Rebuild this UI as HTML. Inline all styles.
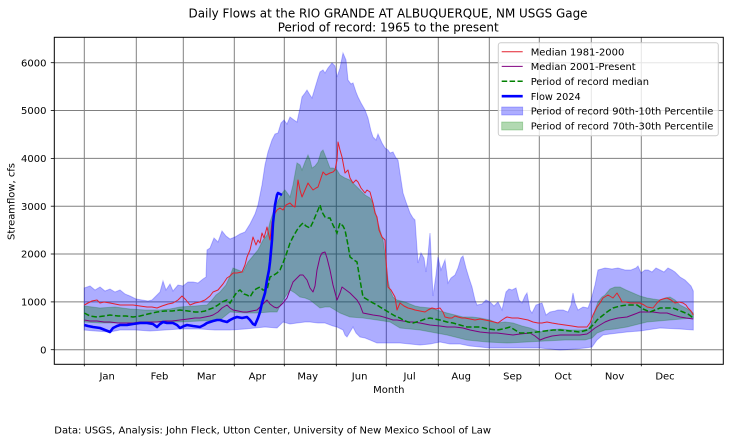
<!DOCTYPE html>
<html><head><meta charset="utf-8"><style>
html,body{margin:0;padding:0;background:#fff;}
svg{display:block;}
text{font-family:"DejaVu Sans","Liberation Sans",sans-serif;fill:#000;}
</style></head><body>
<svg width="730" height="441" viewBox="0 0 730 441" xmlns="http://www.w3.org/2000/svg">
<rect x="0" y="0" width="730" height="441" fill="#fff"/>
<defs><clipPath id="ax"><rect x="54.3" y="37.3" width="669" height="327"/></clipPath></defs>

<!-- grid -->
<g stroke="#808080" stroke-width="1">
<line x1="54.3" x2="723.3" y1="349.7" y2="349.7"/>
<line x1="54.3" x2="723.3" y1="301.9" y2="301.9"/>
<line x1="54.3" x2="723.3" y1="254.0" y2="254.0"/>
<line x1="54.3" x2="723.3" y1="206.2" y2="206.2"/>
<line x1="54.3" x2="723.3" y1="158.4" y2="158.4"/>
<line x1="54.3" x2="723.3" y1="110.5" y2="110.5"/>
<line x1="54.3" x2="723.3" y1="62.7" y2="62.7"/>
<line x1="84.3" x2="84.3" y1="37.3" y2="364.3"/>
<line x1="136.3" x2="136.3" y1="37.3" y2="364.3"/>
<line x1="183.3" x2="183.3" y1="37.3" y2="364.3"/>
<line x1="234.3" x2="234.3" y1="37.3" y2="364.3"/>
<line x1="284.3" x2="284.3" y1="37.3" y2="364.3"/>
<line x1="336.3" x2="336.3" y1="37.3" y2="364.3"/>
<line x1="386.3" x2="386.3" y1="37.3" y2="364.3"/>
<line x1="438.3" x2="438.3" y1="37.3" y2="364.3"/>
<line x1="489.3" x2="489.3" y1="37.3" y2="364.3"/>
<line x1="539.3" x2="539.3" y1="37.3" y2="364.3"/>
<line x1="591.3" x2="591.3" y1="37.3" y2="364.3"/>
<line x1="641.3" x2="641.3" y1="37.3" y2="364.3"/>
</g>

<g clip-path="url(#ax)">
<!-- 90-10 band -->
<polygon fill="rgba(0,0,255,0.32)" stroke="rgba(0,0,255,0.25)" stroke-width="1" points="84.3,288 90,286 95,290 100,287 105,291 110,289 115,292 120,290 125,294 130,296 136,299 142,300 148,301 152,300 156,296 160,292 163,281 166,290 170,284 173,291 178,285 183,286 188,282 193,282 198,283 203,279 206,277 207,250 210,248 214,238 218,242 222,231 226,236 230,239 235,237 240,234 245,232 250,224 255,214 258,205 262,185 265,165 268,152 272,140 275,134 278,133 281,123 284,120 287,124 290,117 294,120 297,122 300,108 302,97 305,93 307,90 310,95 312,98 315,88 318,78 320,72 323,70 325,73 328,68 332,63 335,66 337,77 340,68 343,53 346,60 348,80 351,84 353,83 356,92 358,97 361,103 365,110 368,118 371,131 373,137 376,140 378,134 382,143 385,148 388,150 390,153 393,152 396,158 398,160 401,180 403,193 406,202 410,213 413,218 415,220 418,263 421,253 424,258 426,272 428,255 430,233 433,296 436,275 438,257 441,270 445,260 448,283 451,278 455,275 458,268 461,258 463,256 466,268 469,278 472,287 475,300 477,305 482,304 486,300 490,302 494,306 498,302 502,310 506,292 509,289 512,290 516,288 519,300 522,303 525,296 527,293 530,310 532,313 536,305 542,303 546,315 550,312 555,311 558,310 563,310 568,312 571,305 573,293 575,303 578,310 583,307 588,308 591,300 595,285 598,270 605,268 612,269 618,268 625,270 631,270 636,268 638,266 641,273 645,270 648,270 652,272 656,268 660,270 664,272 668,268 672,270 675,272 680,277 685,280 688,283 691,286 693.3,291 693.3,330 680,329 660,328 640,331 627,332 610,334 603,335 597,340 592,347 585,348 575,349 560,350 540,348 520,348 500,348 490,348 480,347 470,346 460,344 450,344 440,342 430,344 420,345 410,344 400,343 390,343 377,343 370,340 365,338 360,337 356,333 353,327 350,332 347,337 345,335 343,330 341,329 337,327 333,326 325,323 318,323 310,322 305,322 297,323 290,324 283,322 277,328 265,327 255,328 245,329 230,330 215,330 200,329 180,329 165,330 150,331 136,330 120,330 110,332 95,331 84.3,330"/>
<!-- 70-30 band -->
<polygon fill="rgba(0,115,10,0.33)" stroke="rgba(0,115,10,0.25)" stroke-width="1" points="84.3,306 100,308 115,307 130,309 145,310 160,310 170,309 180,307 195,306 207,305 212,300 216,295 220,292 226,285 230,276 233,268 238,270 243,272 248,262 253,256 258,250 263,240 267,235 270,222 273,213 277,203 280,197 283,192 285,190 288,194 290,197 293,185 297,163 300,165 302,170 305,162 308,155 310,160 312,168 315,166 318,162 321,152 323,150 325,155 327,160 330,168 333,168 337,170 340,175 345,178 350,180 355,185 360,190 365,195 370,198 373,203 376,215 380,230 383,240 386,262 388,280 390,290 393,297 397,300 405,302 410,304 415,306 420,307 430,308 440,311 447,313 455,315 463,317 472,317 480,318 490,320 497,323 505,322 513,323 522,326 530,328 540,332 548,330 560,329 570,330 582,330 588,329 592,323 595,310 598,302 602,297 605,295 610,289 615,287 620,287 626,290 633,293 640,296 647,298 653,299 660,300 665,298 670,297 675,300 680,305 686,308 693.3,313 693.3,318 670,320 647,322 627,327 615,329 605,330 597,333 592,338 585,340 565,340 545,341 527,342 507,343 487,342 467,340 447,335 420,330 400,328 390,322 377,320 363,318 350,317 340,313 335,310 330,307 325,307 320,308 315,304 310,300 305,298 300,297 295,293 290,290 283,300 277,312 270,312 257,313 245,313 230,312 220,320 200,321 180,322 160,322 140,323 120,323 100,323 84.3,322"/>

<!-- red median 1981-2000 -->
<polyline fill="none" stroke="#e3202e" stroke-width="1" stroke-linejoin="round" points="84.3,305 88,303 92,301 97,300 100,303 104,302 110,303 115,304 120,305 126,305 133,305 140,306 147,307 152,307 157,308 162,306 168,304 173,303 178,300 182,296 186,300 190,305 195,303 200,302 205,300 210,296 213,292 218,290 223,284 227,278 230,276 233,273 237,273 242,272 245,265 247,257 250,250 253,237 256,245 258,240 260,243 262,233 264,238 267,227 270,240 272,222 274,215 277,210 280,208 283,210 286,205 290,203 293,206 295,207 298,180 300,190 302,197 305,190 308,183 310,186 313,190 316,188 318,187 321,178 323,172 326,175 330,173 333,172 335,170 337,160 338,142 340,150 342,157 345,173 348,170 350,178 353,183 356,180 358,182 361,188 365,193 367,190 370,192 373,203 375,213 377,217 379,230 382,237 385,240 386,260 388,287 391,290 395,297 397,310 400,303 404,306 408,308 412,309 415,310 420,311 425,312 428,310 432,308 436,309 440,308 443,312 445,317 449,318 452,318 455,316 458,317 462,318 465,318 470,319 475,320 480,319 485,320 490,321 494,322 498,323 502,320 505,318 507,317 512,318 518,318 523,319 528,320 533,322 538,323 542,323 547,322 552,323 558,324 565,325 572,326 578,327 583,327 587,327 590,323 593,315 597,307 600,303 603,298 608,295 613,298 617,293 620,298 622,302 626,302 630,303 635,303 640,303 644,305 647,307 653,308 657,303 660,300 663,299 667,298 671,300 675,303 679,302 683,303 686,305 688,308 691,311 693.3,315"/>
<!-- purple median 2001-present -->
<polyline fill="none" stroke="#800080" stroke-width="1" stroke-linejoin="round" points="84.3,320 90,321 97,321 104,322 110,322 118,323 125,323 133,323 140,322 148,322 157,322 165,321 172,321 180,320 188,319 195,318 200,318 205,317 210,316 213,315 218,312 222,308 227,305 230,308 233,310 238,311 243,312 247,312 252,311 257,310 262,305 267,300 270,304 274,307 277,308 280,306 283,303 287,298 290,290 293,282 297,278 300,275 303,275 307,280 310,288 313,292 315,286 317,270 320,257 322,253 325,252 327,258 330,270 333,285 337,300 340,293 342,287 346,290 350,293 354,297 357,300 360,305 363,313 368,314 373,315 380,316 387,318 393,320 397,320 403,321 410,322 413,322 420,323 430,325 440,326 447,327 455,327 463,328 470,330 480,332 490,333 497,333 505,334 513,335 520,334 530,333 535,336 540,340 545,338 552,336 560,335 570,335 580,335 587,334 590,332 595,328 600,325 605,322 610,320 618,318 627,317 635,314 640,312 646,312 653,312 660,313 667,313 673,315 680,317 686,318 693.3,319"/>
<!-- green dashed period median -->
<polyline fill="none" stroke="#008000" stroke-width="1.5" stroke-dasharray="5.5,2.4" points="84.3,313 90,316 97,317 104,316 110,315 118,316 126,316 133,317 140,316 148,314 157,312 165,311 172,311 180,310 188,311 195,312 200,312 205,311 210,309 213,308 218,305 222,302 227,300 230,303 233,298 237,292 240,290 244,294 247,295 250,297 253,292 256,289 260,287 263,290 267,290 270,277 274,275 277,273 280,270 283,263 286,255 290,243 293,237 297,230 300,226 303,223 306,226 310,228 313,222 315,217 318,210 320,205 322,212 325,217 328,218 330,218 333,225 337,233 340,223 343,226 345,230 348,245 350,257 354,260 357,262 360,280 363,297 368,300 373,303 377,305 380,307 385,310 390,313 395,316 400,318 403,320 408,322 413,323 420,321 425,319 430,318 435,319 440,320 447,322 453,323 460,325 467,327 473,327 480,327 488,329 497,330 503,329 510,327 515,330 520,333 528,333 537,332 545,331 553,330 560,330 570,331 580,332 587,330 590,328 594,324 597,320 602,316 607,312 613,308 620,306 627,305 632,305 637,305 643,309 650,312 655,310 660,308 667,308 673,308 678,310 683,312 688,314 693.3,318"/>
<!-- flow 2024 -->
<polyline fill="none" stroke="#0000ff" stroke-width="2.6" stroke-linejoin="round" stroke-linecap="butt" points="84.3,325 88,326 93,327 100,328 105,330 110,332 113,328 117,326 120,325 127,325 133,324 140,323 147,323 153,324 157,327 160,324 163,322 167,323 173,323 177,325 180,328 184,326 187,325 193,326 200,327 204,325 207,323 210,322 213,321 217,320 220,320 223,321 227,322 230,320 234,318 237,317 242,318 247,317 250,320 253,324 255,325 258,318 260,312 262,303 265,293 267,280 269,270 270,262 272,240 273,223 275,205 277,195 278,193 280,194 282,195"/>
</g>

<!-- axes frame -->
<rect x="54.3" y="37.3" width="669" height="327" fill="none" stroke="#000" stroke-width="1"/>

<!-- ticks -->
<g stroke="#000" stroke-width="0.8">
<line x1="50.8" x2="54.3" y1="349.7" y2="349.7"/>
<line x1="50.8" x2="54.3" y1="301.9" y2="301.9"/>
<line x1="50.8" x2="54.3" y1="254.0" y2="254.0"/>
<line x1="50.8" x2="54.3" y1="206.2" y2="206.2"/>
<line x1="50.8" x2="54.3" y1="158.4" y2="158.4"/>
<line x1="50.8" x2="54.3" y1="110.5" y2="110.5"/>
<line x1="50.8" x2="54.3" y1="62.7" y2="62.7"/>
<line x1="84.3" x2="84.3" y1="364.3" y2="366.3"/>
<line x1="136.3" x2="136.3" y1="364.3" y2="366.3"/>
<line x1="183.3" x2="183.3" y1="364.3" y2="366.3"/>
<line x1="234.3" x2="234.3" y1="364.3" y2="366.3"/>
<line x1="284.3" x2="284.3" y1="364.3" y2="366.3"/>
<line x1="336.3" x2="336.3" y1="364.3" y2="366.3"/>
<line x1="386.3" x2="386.3" y1="364.3" y2="366.3"/>
<line x1="438.3" x2="438.3" y1="364.3" y2="366.3"/>
<line x1="489.3" x2="489.3" y1="364.3" y2="366.3"/>
<line x1="539.3" x2="539.3" y1="364.3" y2="366.3"/>
<line x1="591.3" x2="591.3" y1="364.3" y2="366.3"/>
<line x1="641.3" x2="641.3" y1="364.3" y2="366.3"/>
</g>

<!-- y tick labels -->
<g font-size="10" text-anchor="end">
<text x="46.5" y="353.3">0</text>
<text x="46.5" y="305.5">1000</text>
<text x="46.5" y="257.6">2000</text>
<text x="46.5" y="209.8">3000</text>
<text x="46.5" y="162.0">4000</text>
<text x="46.5" y="114.1">5000</text>
<text x="46.5" y="66.3">6000</text>
</g>
<!-- x tick labels -->
<g font-size="10" text-anchor="middle">
<text x="107.2" y="379.5">Jan</text>
<text x="159.5" y="379.5">Feb</text>
<text x="206.3" y="379.5">Mar</text>
<text x="257.3" y="379.5">Apr</text>
<text x="307.7" y="379.5">May</text>
<text x="359.6" y="379.5">Jun</text>
<text x="409.6" y="379.5">Jul</text>
<text x="461.2" y="379.5">Aug</text>
<text x="512.6" y="379.5">Sep</text>
<text x="563" y="379.5">Oct</text>
<text x="614.6" y="379.5">Nov</text>
<text x="665" y="379.5">Dec</text>
</g>

<text x="388.8" y="393" font-size="10" text-anchor="middle">Month</text>
<text transform="translate(14.5,201.5) rotate(-90)" font-size="10" text-anchor="middle" textLength="77" lengthAdjust="spacingAndGlyphs">Streamflow, cfs</text>

<!-- title -->
<text x="388" y="17.5" font-size="12.3" text-anchor="middle" textLength="399" lengthAdjust="spacingAndGlyphs">Daily Flows at the RIO GRANDE AT ALBUQUERQUE, NM USGS Gage</text>
<text x="388.2" y="31.5" font-size="12.3" text-anchor="middle" textLength="221" lengthAdjust="spacingAndGlyphs">Period of record: 1965 to the present</text>

<!-- footer -->
<text x="54.3" y="433.3" font-size="10" textLength="436.7" lengthAdjust="spacingAndGlyphs">Data: USGS, Analysis: John Fleck, Utton Center, University of New Mexico School of Law</text>

<!-- legend -->
<rect x="498.3" y="42.7" width="220" height="93" rx="2.5" ry="2.5" fill="rgba(255,255,255,0.8)" stroke="#cccccc" stroke-width="1"/>
<line x1="501.7" x2="522.7" y1="51.7" y2="51.7" stroke="#e3202e" stroke-width="1"/>
<line x1="501.7" x2="522.7" y1="66.4" y2="66.4" stroke="#800080" stroke-width="1"/>
<line x1="501.7" x2="522.7" y1="81.3" y2="81.3" stroke="#008000" stroke-width="1.5" stroke-dasharray="5.5,2.4"/>
<line x1="501.7" x2="522.7" y1="96.2" y2="96.2" stroke="#0000ff" stroke-width="2.6"/>
<rect x="501.7" y="107" width="21" height="8" fill="rgba(0,0,255,0.32)" stroke="rgba(0,0,255,0.3)" stroke-width="0.8"/>
<rect x="501.7" y="122" width="21" height="8" fill="rgba(0,128,0,0.3)" stroke="rgba(0,128,0,0.3)" stroke-width="0.8"/>
<g font-size="10">
<text x="530.7" y="55.3" textLength="93.6" lengthAdjust="spacingAndGlyphs">Median 1981-2000</text>
<text x="530.7" y="70.0" textLength="105" lengthAdjust="spacingAndGlyphs">Median 2001-Present</text>
<text x="530.7" y="84.9" textLength="118.3" lengthAdjust="spacingAndGlyphs">Period of record median</text>
<text x="530.7" y="99.8" textLength="50" lengthAdjust="spacingAndGlyphs">Flow 2024</text>
<text x="530.7" y="114.6" textLength="182.6" lengthAdjust="spacingAndGlyphs">Period of record 90th-10th Percentile</text>
<text x="530.7" y="129.6" textLength="182.6" lengthAdjust="spacingAndGlyphs">Period of record 70th-30th Percentile</text>
</g>
</svg>
</body></html>
